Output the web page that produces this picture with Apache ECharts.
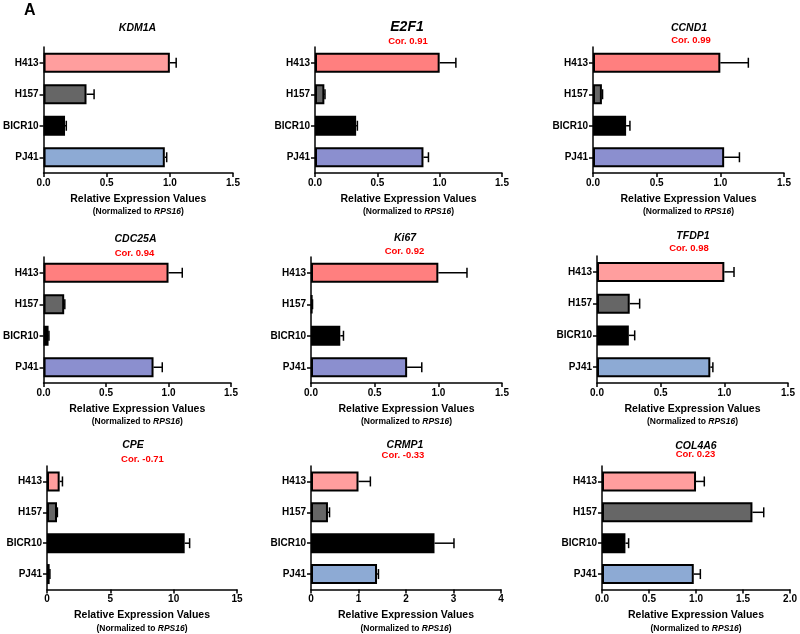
<!DOCTYPE html>
<html>
<head>
<meta charset="utf-8">
<script src="https://cdn.jsdelivr.net/npm/echarts@6/dist/echarts.min.js"></script>
<style>
html,body{margin:0;padding:0;background:#fff;}
#chart{width:800px;height:634px;}
</style>
</head>
<body>
<div id="chart"></div>
<script>
// ---------- DATA ----------
const categories = ['H413', 'H157', 'BICR10', 'PJ41'];
const genes = ['KDM1A', 'E2F1', 'CCND1', 'CDC25A', 'Ki67', 'TFDP1', 'CPE', 'CRMP1', 'COL4A6'];
const correlations = ['', 'Cor. 0.91', 'Cor. 0.99', 'Cor. 0.94', 'Cor. 0.92', 'Cor. 0.98', 'Cor. -0.71', 'Cor. -0.33', 'Cor. 0.23'];

const kdm1aValues  = [1.00, 0.34, 0.17, 0.96];
const kdm1aErrors  = [0.05, 0.06, 0.01, 0.015];
const e2f1Values   = [1.00, 0.075, 0.33, 0.87];
const e2f1Errors   = [0.13, 0.005, 0.01, 0.04];
const ccnd1Values  = [1.00, 0.07, 0.26, 1.03];
const ccnd1Errors  = [0.22, 0.005, 0.03, 0.12];
const cdc25aValues = [1.00, 0.165, 0.04, 0.88];
const cdc25aErrors = [0.11, 0.005, 0.003, 0.07];
const ki67Values   = [1.00, 0.01, 0.23, 0.755];
const ki67Errors   = [0.225, 0.002, 0.025, 0.115];
const tfdp1Values  = [1.00, 0.257, 0.25, 0.89];
const tfdp1Errors  = [0.076, 0.078, 0.046, 0.02];
const cpeValues    = [1.00, 0.79, 10.87, 0.21];
const cpeErrors    = [0.22, 0.03, 0.39, 0.02];
const crmp1Values  = [1.00, 0.357, 2.60, 1.39];
const crmp1Errors  = [0.25, 0.033, 0.41, 0.03];
const col4a6Values = [1.00, 1.60, 0.249, 0.976];
const col4a6Errors = [0.088, 0.12, 0.034, 0.07];

const axisMax      = [1.5, 1.5, 1.5, 1.5, 1.5, 1.5, 15, 4, 2.0];
const axisInterval = [0.5, 0.5, 0.5, 0.5, 0.5, 0.5, 5, 1, 0.5];
const axisDecimals = [1, 1, 1, 1, 1, 1, 0, 0, 1];

const allValues = [kdm1aValues, e2f1Values, ccnd1Values, cdc25aValues, ki67Values, tfdp1Values, cpeValues, crmp1Values, col4a6Values];
const allErrors = [kdm1aErrors, e2f1Errors, ccnd1Errors, cdc25aErrors, ki67Errors, tfdp1Errors, cpeErrors, crmp1Errors, col4a6Errors];

// ---------- STYLE / LAYOUT ----------
const FONT = '"Liberation Sans", Arial, Helvetica, sans-serif';
const pinkLight = '#FF9E9E', salmon = '#FF7F7F', gray = '#666666', blk = '#000000';
const steel = '#8DAAD4', peri = '#8B8FCF';
const palettes = [
  [pinkLight, gray, blk, steel],
  [salmon, gray, blk, peri],
  [salmon, gray, blk, peri],
  [salmon, gray, blk, peri],
  [salmon, gray, blk, peri],
  [pinkLight, gray, blk, steel],
  [pinkLight, gray, blk, steel],
  [pinkLight, gray, blk, steel],
  [pinkLight, gray, blk, steel]
];
const grids = [
  {left: 42, top: 47, width: 191, height: 126},
  {left: 315, top: 47, width: 187, height: 126},
  {left: 593, top: 47, width: 191, height: 126},
  {left: 40, top: 257, width: 191, height: 126},
  {left: 311, top: 257, width: 191, height: 126},
  {left: 597, top: 256, width: 191, height: 127},
  {left: 47, top: 466, width: 190, height: 127},
  {left: 311, top: 466, width: 190, height: 127},
  {left: 602, top: 466, width: 191, height: 127}
];
const titlePos = [
  {x: 137.5, y: 28, cx: 137.5, cy: 0},
  {x: 407, y: 27, cx: 408, cy: 41.5},
  {x: 689, y: 28.5, cx: 691, cy: 40.7},
  {x: 135.5, y: 239, cx: 134.5, cy: 253},
  {x: 405, y: 238, cx: 404.5, cy: 251},
  {x: 693, y: 236.5, cx: 689, cy: 248.5},
  {x: 133, y: 445, cx: 142.5, cy: 459},
  {x: 405, y: 445, cx: 403, cy: 455},
  {x: 696, y: 446, cx: 695.5, cy: 454.5}
];

const option = {
  animation: false,
  backgroundColor: '#ffffff',
  grid: grids.map(g => Object.assign({containLabel: false}, g)),
  xAxis: [], yAxis: [], series: [],
  graphic: []
};

const graphics = [{
  type: 'text', left: 24, top: 3,
  style: {text: 'A', font: 'bold 16px ' + FONT, fill: '#000'}
}];

genes.forEach((gene, i) => {
  const dec = axisDecimals[i];
  option.xAxis.push({
    type: 'value', gridIndex: i, min: 0, max: axisMax[i], interval: axisInterval[i],
    splitLine: {show: false},
    axisLine: {show: true, lineStyle: {color: '#000', width: 1.5}},
    axisTick: {show: true, length: 4, lineStyle: {color: '#000', width: 1.5}},
    axisLabel: {
      color: '#000', fontSize: 10, fontWeight: 'bold', fontFamily: FONT, margin: 5,
      formatter: v => Number(v).toFixed(dec)
    },
    name: '{a|Relative Expression Values}\n{b|(Normalized to }{c|RPS16}{b|)}',
    nameLocation: 'middle', nameGap: 19,
    nameTextStyle: {
      rich: {
        a: {fontSize: 10.5, fontWeight: 'bold', fontFamily: FONT, color: '#000', lineHeight: 14},
        b: {fontSize: 8.5, fontWeight: 'bold', fontFamily: FONT, color: '#000', lineHeight: 12},
        c: {fontSize: 8.5, fontWeight: 'bold', fontStyle: 'italic', fontFamily: FONT, color: '#000', lineHeight: 12}
      }
    }
  });
  option.yAxis.push({
    type: 'category', gridIndex: i, data: categories, inverse: true,
    axisLine: {show: true, lineStyle: {color: '#000', width: 1.5}},
    axisTick: {show: true, length: 4, alignWithLabel: true, lineStyle: {color: '#000', width: 1.5}},
    axisLabel: {color: '#000', fontSize: 10, fontWeight: 'bold', fontFamily: FONT, margin: 5}
  });
  const vals = allValues[i], errs = allErrors[i], pal = palettes[i];
  option.series.push({
    type: 'bar', xAxisIndex: i, yAxisIndex: i, barWidth: 20,
    data: vals.map((v, k) => ({
      value: v,
      itemStyle: {color: pal[k], borderColor: '#000', borderWidth: 2}
    })),
    z: 2
  });
  option.series.push({
    type: 'custom', xAxisIndex: i, yAxisIndex: i, z: 3,
    encode: {x: [0, 1], y: 2},
    data: vals.map((v, k) => [v, v + errs[k], categories[k]]),
    renderItem: function (params, api) {
      const v = api.value(0), e = api.value(1), c = api.value(2);
      const p0 = api.coord([v, c]);
      const p1 = api.coord([e, c]);
      const h = 10;
      return {
        type: 'group',
        children: [
          {type: 'line', shape: {x1: p0[0], y1: p0[1], x2: p1[0], y2: p1[1]}, style: {stroke: '#000', lineWidth: 1.5}},
          {type: 'line', shape: {x1: p1[0], y1: p1[1] - h / 2, x2: p1[0], y2: p1[1] + h / 2}, style: {stroke: '#000', lineWidth: 1.5}}
        ]
      };
    }
  });
  const tp = titlePos[i];
  graphics.push({
    type: 'text', x: tp.x, y: tp.y,
    style: {
      text: gene, fill: '#000', align: 'center', verticalAlign: 'middle',
      font: 'italic bold ' + (gene === 'E2F1' ? 14 : 10.5) + 'px ' + FONT
    }
  });
  if (correlations[i]) {
    graphics.push({
      type: 'text', x: tp.cx, y: tp.cy,
      style: {
        text: correlations[i], fill: '#FF0000', align: 'center', verticalAlign: 'middle',
        font: 'bold 9.5px ' + FONT
      }
    });
  }
});
option.graphic = graphics;

const chart = echarts.init(document.getElementById('chart'), null, {renderer: 'canvas'});
chart.setOption(option);
</script>
</body>
</html>
